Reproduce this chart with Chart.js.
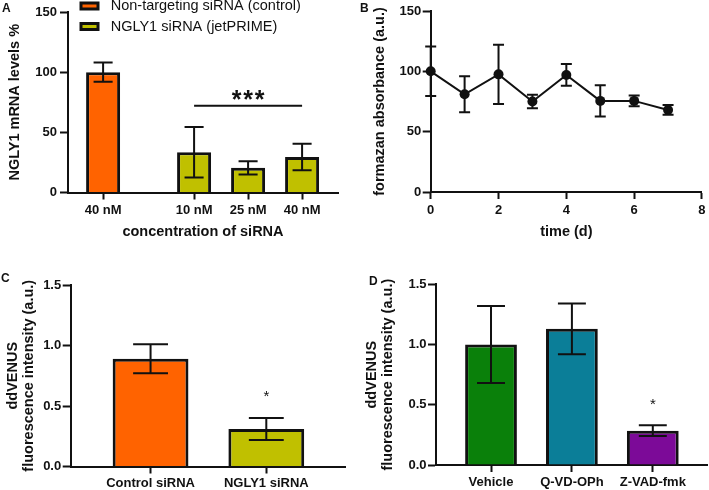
<!DOCTYPE html>
<html><head><meta charset="utf-8">
<script src="https://cdn.jsdelivr.net/npm/chart.js@4/dist/chart.umd.min.js"></script>
<style>
html,body{margin:0;padding:0;background:#fff;}
#wrap{position:relative;width:709px;height:490px;overflow:hidden;background:#fff;}
canvas{position:absolute;}
.plabel{position:absolute;font:bold 12px/12px "Liberation Sans",Arial,sans-serif;color:#111;}
</style></head><body>
<div id="wrap">
<canvas id="cA" width="355" height="245" style="left:0;top:0;width:355px;height:245px"></canvas>
<canvas id="cB" width="354" height="245" style="left:355px;top:0;width:354px;height:245px"></canvas>
<canvas id="cC" width="355" height="245" style="left:0;top:245px;width:355px;height:245px"></canvas>
<canvas id="cD" width="354" height="245" style="left:355px;top:245px;width:354px;height:245px"></canvas>
<div class="plabel" style="left:2px;top:1.5px">A</div>
<div class="plabel" style="left:360px;top:1.5px">B</div>
<div class="plabel" style="left:1px;top:272px">C</div>
<div class="plabel" style="left:369px;top:275px">D</div>
</div>
<script>
// ---------------- Panel A: NGLY1 mRNA levels ----------------
const aCategories = ['40 nM', '10 nM', '25 nM', '40 nM'];
const aGroupOf    = [0, 1, 1, 1];
const aSeries     = ['Non-targeting siRNA (control)', 'NGLY1 siRNA (jetPRIME)'];
const aValues     = [100, 33.5, 20.5, 29.5];
const aErrors     = [8, 21, 5.5, 11];
const aYTicks     = [0, 50, 100, 150];
const aSigText    = '***';
const aSigSpan    = [1, 3];
const aSigLevel   = 72;

// ---------------- Panel B: formazan absorbance over time ----------------
const bTime    = [0, 1, 2, 3, 4, 5, 6, 7];
const bValues  = [100, 81, 97.5, 75, 97, 75.5, 75.5, 68];
const bErrors  = [20.5, 15, 24.5, 5.5, 9, 13, 4.5, 4];
const bXTicks  = [0, 2, 4, 6, 8];
const bYTicks  = [0, 50, 100, 150];

// ---------------- Panel C: ddVENUS, siRNA ----------------
const cCategories = ['Control siRNA', 'NGLY1 siRNA'];
const cValues     = [0.89, 0.31];
const cErrors     = [0.12, 0.09];
const cSig        = ['', '*'];

// ---------------- Panel D: ddVENUS, inhibitors ----------------
const dCategories = ['Vehicle', 'Q-VD-OPh', 'Z-VAD-fmk'];
const dValues     = [1.0, 1.13, 0.285];
const dErrors     = [0.32, 0.21, 0.045];
const dSig        = ['', '', '*'];
const cdYTicks    = [0, 0.5, 1.0, 1.5];

// ---------------- styling ----------------
const FONT = '"Liberation Sans", Arial, Helvetica, sans-serif';
const INK = '#111';
const A_COLORS = ['#FF6300', '#C0C000'];
const C_COLORS = ['#FF6300', '#C0C000'];
const D_COLORS = ['#0A800A', '#0B7E98', '#7C0A98'];
const GROUP_GAP = 0.685;

Chart.defaults.font.family = FONT;
Chart.defaults.font.size = 13;
Chart.defaults.font.weight = 'bold';
Chart.defaults.color = INK;
Chart.defaults.animation = false;

// error bars drawn from dataset values through the y scale
const errorBarPlugin = {
  id: 'errorBars',
  afterDatasetsDraw(chart, args, o) {
    const ctx = chart.ctx;
    chart.data.datasets.forEach((ds, di) => {
      if (!ds.errors) return;
      const meta = chart.getDatasetMeta(di);
      const ys = chart.scales[meta.yAxisID];
      meta.data.forEach((el, i) => {
        const d = ds.data[i];
        const v = (typeof d === 'object') ? d.y : d;
        const e = ds.errors[i];
        const x = el.x;
        const yT = ys.getPixelForValue(v + e), yB = ys.getPixelForValue(v - e);
        const half = el.width ? el.width * o.capRatio : o.capHalf;
        ctx.save();
        ctx.strokeStyle = INK; ctx.lineWidth = o.lineWidth || 2; ctx.lineCap = 'butt';
        ctx.beginPath();
        ctx.moveTo(x, yT); ctx.lineTo(x, yB);
        ctx.moveTo(x - half, yT); ctx.lineTo(x + half, yT);
        ctx.moveTo(x - half, yB); ctx.lineTo(x + half, yB);
        ctx.stroke();
        ctx.restore();
      });
    });
  }
};

function drawSpacedText(ctx, text, cx, baseline, spacing) {
  const n = text.length;
  for (let k = 0; k < n; k++) {
    ctx.fillText(text[k], cx + (k - (n - 1) / 2) * spacing, baseline);
  }
}

// significance marks
const sigPlugin = {
  id: 'sigMarks',
  afterDatasetsDraw(chart, args, o) {
    const ctx = chart.ctx, xs = chart.scales.x, ys = chart.scales.y;
    ctx.save();
    ctx.fillStyle = INK; ctx.strokeStyle = INK; ctx.textAlign = 'center'; ctx.textBaseline = 'alphabetic';
    (o.brackets || []).forEach(b => {
      const x1 = xs.getPixelForValue(b.from), x2 = xs.getPixelForValue(b.to);
      const y = ys.getPixelForValue(b.level);
      ctx.lineWidth = 2;
      ctx.beginPath(); ctx.moveTo(x1, y); ctx.lineTo(x2, y); ctx.stroke();
      ctx.font = b.font;
      drawSpacedText(ctx, b.text, (x1 + x2) / 2, y - b.textGap + b.size * 0.575, b.spacing);
    });
    if (o.stars) {
      chart.data.datasets.forEach((ds, di) => {
        if (!ds.sig) return;
        const meta = chart.getDatasetMeta(di);
        meta.data.forEach((el, i) => {
          if (!ds.sig[i]) return;
          const top = ys.getPixelForValue(ds.data[i].y + ds.errors[i]);
          ctx.font = o.stars.font;
          ctx.fillText(ds.sig[i], el.x, top - o.stars.gap + o.stars.size * 0.575);
        });
      });
    }
    ctx.restore();
  }
};

// legend with outlined boxes (panel A)
const boxLegendPlugin = {
  id: 'boxLegend',
  afterDraw(chart, args, o) {
    if (!o || !o.display) return;
    const ctx = chart.ctx;
    const {left, top} = chart.chartArea;
    chart.data.datasets.forEach((ds, i) => {
      const cy = top + o.offsetY + i * o.rowGap;
      const bx = left + o.offsetX;
      ctx.save();
      ctx.fillStyle = ds.backgroundColor; ctx.strokeStyle = INK; ctx.lineWidth = o.boxBorder;
      ctx.fillRect(bx, cy - o.boxH / 2, o.boxW, o.boxH);
      ctx.strokeRect(bx, cy - o.boxH / 2, o.boxW, o.boxH);
      ctx.fillStyle = INK; ctx.font = o.font; ctx.textBaseline = 'middle'; ctx.textAlign = 'left';
      ctx.fillText(ds.label, bx + o.boxW + o.gap, cy);
      ctx.restore();
    });
  }
};

function tickSetter(values) {
  return scale => { scale.ticks = values.map(v => ({value: v})); };
}
function xAxis(box, H, extra) {
  return Object.assign({
    type: 'linear',
    offset: false,
    border: {display: true, color: INK, width: 2},
    grid: {display: true, drawOnChartArea: false, drawTicks: true, tickLength: 7, tickColor: INK, tickWidth: 2, offset: false},
    afterFit: s => { s.height = H - box.bottom; }
  }, extra);
}
function yAxis(box, extra) {
  return Object.assign({
    type: 'linear',
    border: {display: true, color: INK, width: 2},
    grid: {display: true, drawOnChartArea: false, drawTicks: true, tickLength: 8, tickColor: INK, tickWidth: 2},
    afterFit: s => { s.width = box.left; }
  }, extra);
}
function layout(W, box) {
  return {padding: {left: 0, top: box.top, right: W - box.right, bottom: 0}};
}
const titleFont = {size: 14.5, weight: 'bold', family: FONT};

// ================= Chart A =================
(function () {
  const W = 355, H = 245, box = {left: 68, top: 12, right: 338, bottom: 192.5};
  const aX = aCategories.map((_, i) => i + (aGroupOf[i] > 0 ? GROUP_GAP : 0));
  const datasets = aSeries.map((name, g) => {
    const idx = aCategories.map((_, i) => i).filter(i => aGroupOf[i] === g);
    return {
      label: name,
      data: idx.map(i => ({x: aX[i], y: aValues[i]})),
      errors: idx.map(i => aErrors[i]),
      backgroundColor: A_COLORS[g],
      borderColor: INK, borderWidth: 3, borderSkipped: 'start',
      grouped: false, categoryPercentage: 1, barPercentage: 0.63
    };
  });
  new Chart(document.getElementById('cA'), {
    type: 'bar',
    data: {datasets},
    options: {
      responsive: false, devicePixelRatio: 1,
      layout: layout(W, box),
      plugins: {
        legend: {display: false}, tooltip: {enabled: false},
        errorBars: {capRatio: 0.28},
        sigMarks: {brackets: [{from: aX[aSigSpan[0]], to: aX[aSigSpan[1]], level: aSigLevel, text: aSigText,
                               font: 'bold 25px ' + FONT, size: 25, spacing: 11.5, textGap: 12.5}]},
        boxLegend: {display: true, offsetX: 13, offsetY: -6, rowGap: 20.5, boxW: 17, boxH: 6, boxBorder: 3, gap: 12.7,
                    font: 'normal 14.5px ' + FONT}
      },
      scales: {
        x: xAxis(box, H, {
          min: -0.65, max: 4.35,
          afterBuildTicks: tickSetter(aX),
          ticks: {autoSkip: false, maxRotation: 0, padding: 3.4, callback: (v, i) => aCategories[i]},
          title: {display: true, text: 'concentration of siRNA', font: titleFont, padding: {top: 0, bottom: 4.6}}
        }),
        y: yAxis(box, {
          min: 0, max: 150,
          afterBuildTicks: tickSetter(aYTicks),
          ticks: {padding: 3},
          title: {display: true, text: 'NGLY1 mRNA levels %', font: titleFont, padding: {top: 6.3, bottom: 0}}
        })
      }
    },
    plugins: [errorBarPlugin, sigPlugin, boxLegendPlugin]
  });
})();

// ================= Chart B =================
(function () {
  const W = 354, H = 245, box = {left: 75.7, top: 11, right: 347.3, bottom: 192};
  new Chart(document.getElementById('cB'), {
    type: 'line',
    data: {datasets: [{
      label: 'formazan absorbance',
      data: bTime.map((t, i) => ({x: t, y: bValues[i]})),
      errors: bErrors,
      borderColor: INK, borderWidth: 2, tension: 0,
      pointRadius: 5, pointBackgroundColor: INK, pointBorderColor: INK, pointBorderWidth: 0,
      clip: false
    }]},
    options: {
      responsive: false, devicePixelRatio: 1,
      layout: layout(W, box),
      plugins: {legend: {display: false}, tooltip: {enabled: false}, errorBars: {capHalf: 5.5}},
      scales: {
        x: xAxis(box, H, {
          min: 0, max: 8,
          afterBuildTicks: tickSetter(bXTicks),
          ticks: {autoSkip: false, maxRotation: 0, padding: 3.4},
          title: {display: true, text: 'time (d)', font: titleFont, padding: {top: 0, bottom: 4.6}}
        }),
        y: yAxis(box, {
          min: 0, max: 150,
          afterBuildTicks: tickSetter(bYTicks),
          ticks: {padding: 1.5},
          title: {display: true, text: 'formazan absorbance (a.u.)', font: titleFont, padding: {top: 16.3, bottom: 0}}
        })
      }
    },
    plugins: [errorBarPlugin]
  });
})();

// ================= Chart C / D =================
function venusChart(id, W, box, cats, vals, errs, sig, colors, xmin, xmax, barPct, capRatio, ytitlePad) {
  const H = 245;
  const xs = cats.map((_, i) => i);
  new Chart(document.getElementById(id), {
    type: 'bar',
    data: {datasets: [{
      label: 'ddVENUS',
      data: xs.map(i => ({x: i, y: vals[i]})),
      errors: errs, sig: sig,
      backgroundColor: colors,
      borderColor: INK, borderWidth: 3, borderSkipped: 'start',
      categoryPercentage: 1, barPercentage: barPct
    }]},
    options: {
      responsive: false, devicePixelRatio: 1,
      layout: layout(W, box),
      plugins: {
        legend: {display: false}, tooltip: {enabled: false},
        errorBars: {capRatio: capRatio},
        sigMarks: {stars: {font: 'normal 15px ' + FONT, size: 15, gap: 25.3}}
      },
      scales: {
        x: xAxis(box, H, {
          min: xmin, max: xmax,
          afterBuildTicks: tickSetter(xs),
          ticks: {autoSkip: false, maxRotation: 0, padding: 2.2, callback: (v, i) => cats[i]}
        }),
        y: yAxis(box, {
          min: 0, max: 1.5,
          afterBuildTicks: tickSetter(cdYTicks),
          ticks: {padding: 1.5, callback: v => v.toFixed(1)},
          title: {display: true, text: ['ddVENUS', 'fluorescence intensity (a.u.)'],
                  font: {size: 14.5, weight: 'bold', family: FONT, lineHeight: 1.1}, padding: {top: ytitlePad, bottom: 0}}
        })
      }
    },
    plugins: [errorBarPlugin, sigPlugin]
  });
}
venusChart('cC', 355, {left: 70.7, top: 40, right: 345, bottom: 221.5},
  cCategories, cValues, cErrors, cSig, C_COLORS, -0.69, 1.68, 0.655, 0.23, 5);
venusChart('cD', 354, {left: 81, top: 39.3, right: 352, bottom: 220},
  dCategories, dValues, dErrors, dSig, D_COLORS, -0.68, 2.67, 0.64, 0.27, 9.5);
</script>
</body></html>
